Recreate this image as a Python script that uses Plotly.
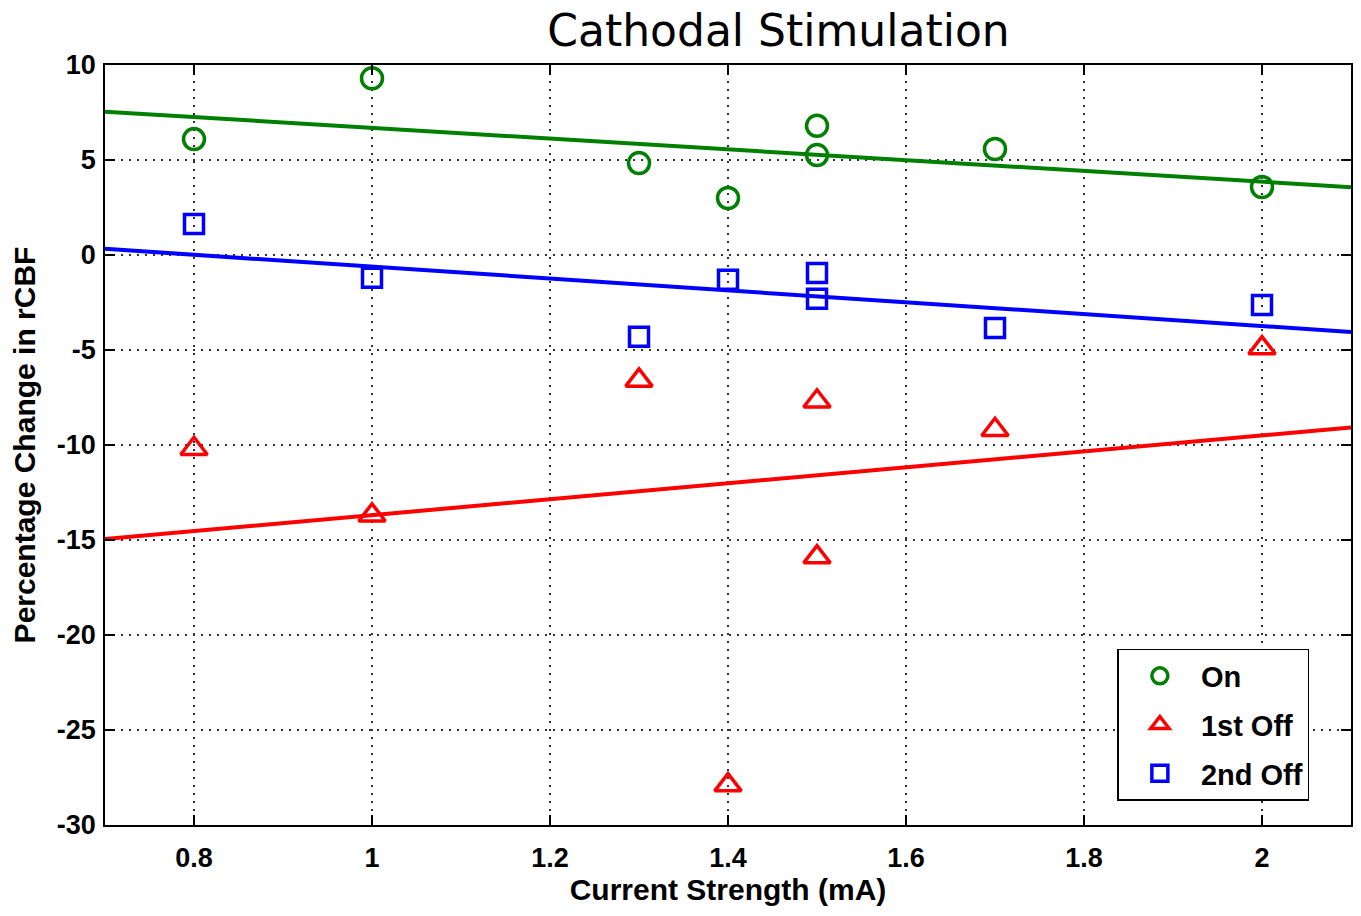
import numpy as np
import plotly.graph_objects as go

current = [0.8, 1.0, 1.3, 1.4, 1.5, 1.5, 1.7, 2.0]
on_vals = [6.1, 9.3, 4.84, 3.0, 6.8, 5.26, 5.58, 3.58]
off1_vals = [-10.2, -13.7, -6.6, -27.9, -7.7, -15.9, -9.2, -4.9]
off2_vals = [1.63, -1.2, -4.3, -1.3, -0.95, -2.3, -3.84, -2.63]

x_ticks = [0.8, 1.0, 1.2, 1.4, 1.6, 1.8, 2.0]
x_ticktext = ["0.8", "1", "1.2", "1.4", "1.6", "1.8", "2"]
y_ticks = [-30, -25, -20, -15, -10, -5, 0, 5, 10]
y_ticktext = ["-30", "-25", "-20", "-15", "-10", "-5", "0", "5", "10"]

series = [
    ("On", on_vals, "#008000", "circle-open", 21),
    ("1st Off", off1_vals, "#ff0000", "triangle-up-open", 23),
    ("2nd Off", off2_vals, "#0000ff", "square-open", 19),
]

x_range = [0.7, 2.1]
fig = go.Figure()

for name, vals, color, sym, size in series:
    k, b = np.polyfit(current, vals, 1)
    xs = np.array(x_range)
    fig.add_trace(go.Scatter(x=xs, y=k * xs + b, mode="lines",
                             line=dict(color=color, width=4),
                             showlegend=False, hoverinfo="skip"))

for i, (name, vals, color, sym, size) in enumerate(series):
    fig.add_trace(go.Scatter(x=current, y=vals, mode="markers", name=name,
                             legendgroup=f"g{i}",
                             marker=dict(symbol=sym, size=size, color=color,
                                         line=dict(color=color, width=3.5))))

tick_font = dict(family="Liberation Sans", size=27, color="black", weight="bold")
title_font = dict(family="Liberation Sans", size=30, color="black", weight="bold")

axis_common = dict(
    showline=True, linecolor="black", linewidth=1.5, mirror="ticks",
    ticks="inside", ticklen=10, tickwidth=1.5, tickcolor="black",
    showgrid=True, gridcolor="#333333", griddash="2px,6px", gridwidth=1.5,
    zeroline=False, tickfont=tick_font,
)

fig.update_layout(
    width=1361, height=916,
    margin=dict(l=105, r=8, t=65, b=91),
    paper_bgcolor="white", plot_bgcolor="white",
    title=dict(text="Cathodal Stimulation", x=0.572, xanchor="center", y=0.967, yanchor="middle",
               font=dict(family="DejaVu Sans", size=44, color="black")),
    xaxis=dict(range=x_range, tickvals=x_ticks, ticktext=x_ticktext,
               ticklabelstandoff=8,
               title=dict(text="Current Strength (mA)", standoff=4, font=title_font),
               **axis_common),
    yaxis=dict(range=[-30, 10], tickvals=y_ticks, ticktext=y_ticktext,
               ticklabelstandoff=2,
               title=dict(text="Percentage Change in rCBF", standoff=12, font=title_font),
               **axis_common),
    legend=dict(x=0.8125, xanchor="left", y=0.2316, yanchor="top",
                bgcolor="white", bordercolor="black", borderwidth=1.5,
                font=dict(family="Liberation Sans", size=29, color="black", weight="bold"),
                itemwidth=72, tracegroupgap=8),
    showlegend=True,
)

fig.write_html("out.html")
